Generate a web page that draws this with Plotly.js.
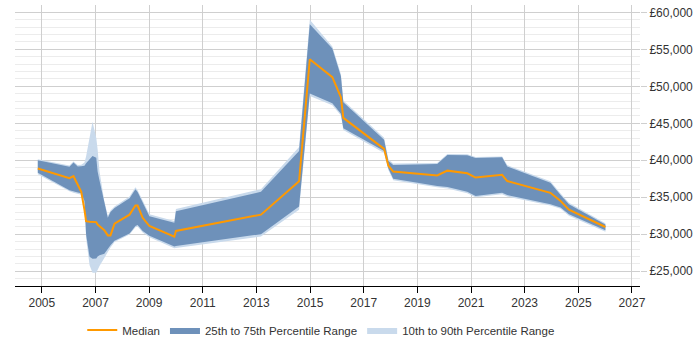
<!DOCTYPE html>
<html>
<head>
<meta charset="utf-8">
<script src="https://cdn.plot.ly/plotly-3.0.1.min.js"></script>
<style>html,body{margin:0;padding:0;background:#fff;}#chart{width:700px;height:350px;}</style>
</head>
<body>
<div id="chart"></div>
<script>
var years = [2004.85, 2006.03, 2006.18, 2006.34, 2006.47, 2006.59, 2006.65, 2006.78, 2006.89, 2007.03,
  2007.08, 2007.15, 2007.33, 2007.46, 2007.56, 2007.71, 2008.27, 2008.49, 2008.57, 2008.76,
  2009.01, 2009.94, 2010.0, 2013.17, 2014.59, 2014.99, 2015.83, 2016.15, 2016.24, 2017.76,
  2017.92, 2018.1, 2019.74, 2020.12, 2020.86, 2021.17, 2022.16, 2022.35, 2023.96, 2024.34, 2024.65, 2026.01];
var median = [38900, 37580, 37850, 36700, 35730, 33300, 31770, 31700, 31650, 31640,
  31300, 31100, 30540, 29840, 29840, 31430, 32650, 33880, 33880, 32220,
  31110, 29660, 30450, 32650, 37150, 53660, 51240, 48510, 45730, 41550,
  39260, 38470, 37940, 38600, 38240, 37670, 38030, 37190, 35600, 34500, 33320, 30980];
var p75 = [40000, 39130, 39700, 39170, 39200, 39260, 39600, 40200, 40580, 40360,
  38500, 37280, 34200, 32220, 33000, 33540, 34860, 36100, 35700, 34300,
  32430, 31560, 33100, 35730, 41240, 58410, 55110, 51370, 47850, 42790,
  39920, 39360, 39490, 40710, 40670, 40320, 40400, 39170, 36970, 35300, 34070, 31330];
var p25 = [38300, 35960, 35800, 35650, 35550, 34500, 30000, 26940, 26700, 26710,
  27000, 27150, 27370, 28000, 28500, 29130, 30100, 31110, 31240, 30450,
  29790, 28330, 28400, 30010, 33750, 49040, 47710, 46300, 44320, 41240,
  38900, 37500, 36530, 36400, 35730, 35170, 35600, 35300, 34070, 33620, 32700, 30540];
var p90 = [40150, 39300, 39850, 39350, 39400, 39700, 40500, 42800, 45200, 43000,
  41500, 38500, 34500, 32500, 33200, 33750, 35100, 36350, 35950, 34550,
  32700, 31800, 33400, 36100, 41800, 59000, 55400, 51650, 48100, 43050,
  40150, 39550, 39650, 40850, 40800, 40450, 40500, 39350, 37150, 35500, 34250, 31500];
var p10 = [38100, 35800, 35600, 35450, 35350, 34200, 29500, 25800, 24800, 24800,
  25200, 25700, 26800, 27500, 28200, 28950, 29950, 30950, 31050, 30250,
  29600, 28100, 28150, 29700, 33300, 48700, 47450, 46050, 44100, 41000,
  38700, 37300, 36350, 36200, 35550, 35000, 35400, 35100, 33900, 33450, 32500, 30350];
var xTicks = [2005, 2007, 2009, 2011, 2013, 2015, 2017, 2019, 2021, 2023, 2025, 2027];
var yTicks = [25000, 30000, 35000, 40000, 45000, 50000, 55000, 60000];

function band(hi, lo) {
  return {
    x: years.concat(years.slice().reverse()),
    y: hi.concat(lo.slice().reverse())
  };
}
var outer = band(p90, p10);
var inner = band(p75, p25);

var traces = [
  {x: outer.x, y: outer.y, type: 'scatter', mode: 'lines', fill: 'toself',
   fillcolor: 'rgb(201,218,236)', line: {width: 0, color: 'rgba(0,0,0,0)'},
   name: '10th to 90th Percentile Range', legendrank: 3, hoverinfo: 'skip'},
  {x: inner.x, y: inner.y, type: 'scatter', mode: 'lines', fill: 'toself',
   fillcolor: 'rgb(110,145,186)', line: {width: 0, color: 'rgba(0,0,0,0)'},
   name: '25th to 75th Percentile Range', legendrank: 2, hoverinfo: 'skip'},
  {x: years, y: median, type: 'scatter', mode: 'lines',
   line: {color: 'rgb(255,153,0)', width: 2},
   name: 'Median', legendrank: 1}
];

var layout = {
  width: 700, height: 350,
  margin: {l: 15, r: 60, t: 5, b: 57},
  paper_bgcolor: '#fff', plot_bgcolor: '#fff',
  font: {family: '"Liberation Sans", Arial, sans-serif', size: 12, color: '#333'},
  showlegend: true,
  legend: {orientation: 'h', x: 0.49, xanchor: 'center', y: -0.105, yanchor: 'top',
    font: {size: 11.5, color: '#333'}, itemwidth: 30, tracegroupgap: 0},
  xaxis: {
    range: [2004, 2027.3], tickvals: xTicks, ticktext: xTicks.map(String),
    showgrid: true, gridcolor: '#cfcfcf', gridwidth: 1,
    showline: true, linecolor: '#000', linewidth: 1,
    ticks: 'outside', ticklen: 6, tickcolor: '#000',
    zeroline: false, fixedrange: true
  },
  yaxis: {
    side: 'right', range: [23000, 61000], tickvals: yTicks,
    ticktext: yTicks.map(function(v){ return '£' + v.toLocaleString('en-GB'); }),
    showgrid: true, gridcolor: '#cfcfcf', gridwidth: 1,
    minor: {dtick: 1000, tick0: 0, showgrid: true, gridcolor: '#ececec', gridwidth: 1},
    ticks: 'outside', ticklen: 6, tickcolor: '#cfcfcf',
    showline: false, zeroline: false, fixedrange: true
  }
};

Plotly.newPlot('chart', traces, layout, {displayModeBar: false, staticPlot: true});
</script>
</body>
</html>
